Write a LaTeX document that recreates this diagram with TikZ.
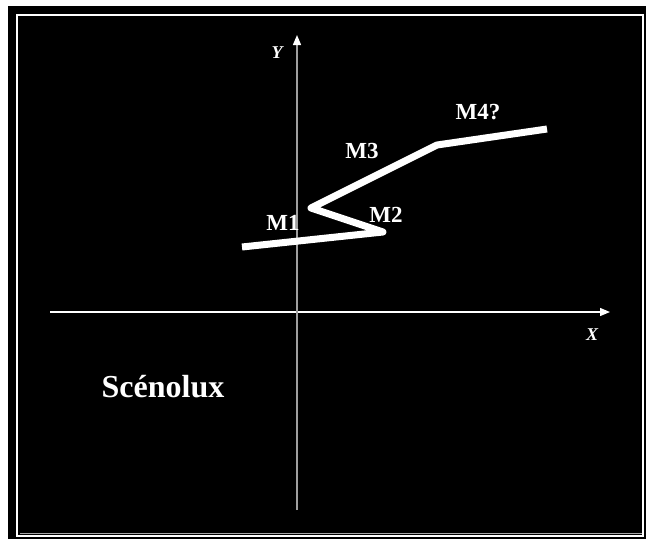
\documentclass[tikz,border=0pt]{standalone}
\usepackage{fontspec}
\setmainfont{Liberation Serif}
\usetikzlibrary{
    arrows.meta,
    positioning,
    calc
}
\tikzset{
    axisline/.style={
        line width=1.3pt,
        -{Triangle[length=10pt,width=8pt,color=white]}
    }
}
\tikzset{
    pathlabel/.style={
        text=white,
        font=\fontsize{23}{23}\selectfont\bfseries,
        inner sep=0pt,
        anchor=base
    }
}
\tikzset{
    axislabel/.style={
        text=white,
        font=\fontsize{18}{18}\selectfont\bfseries\itshape,
        inner sep=0pt,
        anchor=base
    }
}
\tikzset{
    trajectory/.style={
        draw=white,
        line width=7pt,
        line join=round
    }
}

\begin{document}
\begin{tikzpicture}[
    x=1pt,
    y=-1pt
]

% ------------------------------------------------------------
% Frame
% ------------------------------------------------------------

\useasboundingbox (0,0) rectangle (646,539);

\fill[black] (8,6) rectangle (646,539);

\draw[white, line width=1.6pt] (17,15) rectangle (643,536);

\draw[gray!70, line width=1pt] (20,533) -- (642,533);

% ------------------------------------------------------------
% Axes
% ------------------------------------------------------------

\coordinate (xstart) at (50,312);
\coordinate (xend) at (610,312);
\coordinate (ystart) at (297,510);
\coordinate (yend) at (297,35);

\draw[axisline, draw=white] (xstart) -- (xend);

\draw[axisline, draw=gray!75] (ystart) -- (yend);

\node[axislabel] (ylabel) at (277,58) {Y};

\node[axislabel] (xlabel) at (592,340) {X};

% ------------------------------------------------------------
% Trajectory
% ------------------------------------------------------------

\coordinate (start) at (242,247);
\coordinate (m2) at (383,232);
\coordinate (m1) at (311,208);
\coordinate (m3) at (437,145);
\coordinate (m4) at (547,129);

\draw[trajectory]
    (start) -- (m2) -- (m1) -- (m3) -- (m4);

\node[pathlabel] (m1label) at (283,230) {M1};

\node[pathlabel] (m2label) at (386,222) {M2};

\node[pathlabel] (m3label) at (362,158) {M3};

\node[pathlabel] (m4label) at (478,119) {M4?};

% ------------------------------------------------------------
% Title
% ------------------------------------------------------------

\node[
    text=white,
    font=\fontsize{32}{32}\selectfont\bfseries,
    inner sep=0pt,
    anchor=base
] (title) at (163,397) {Scénolux};

\end{tikzpicture}
\end{document}
